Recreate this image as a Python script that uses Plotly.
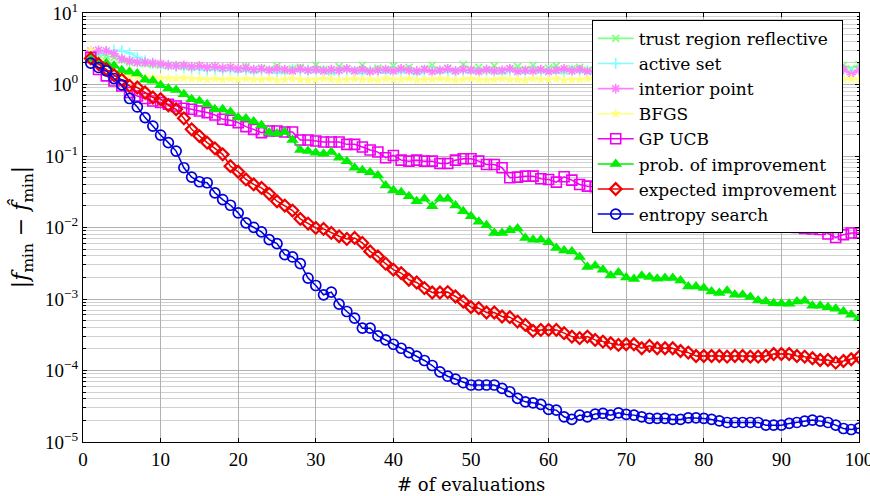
import plotly.graph_objects as go

evals = list(range(1, 101))

# log10(|f_min - f_hat_min|), x = 1..100
trust_region_log10 = [
    0.40, 0.42, 0.40, 0.38, 0.34, 0.31, 0.30, 0.29, 0.28, 0.27,
    0.26, 0.27, 0.25, 0.24, 0.26, 0.23, 0.25, 0.22, 0.24, 0.21,
    0.25, 0.20, 0.23, 0.21, 0.26, 0.19, 0.22, 0.24, 0.20, 0.27,
    0.21, 0.18, 0.25, 0.22, 0.20, 0.27, 0.19, 0.23, 0.21, 0.26,
    0.20, 0.24, 0.18, 0.22, 0.27, 0.20, 0.23, 0.19, 0.28, 0.21,
    0.24, 0.20, 0.26, 0.19, 0.22, 0.25, 0.21, 0.27, 0.20, 0.23,
    0.26, 0.19, 0.22, 0.24, 0.20, 0.27, 0.21, 0.23, 0.19, 0.25,
    0.22, 0.26, 0.20, 0.23, 0.19, 0.25, 0.22, 0.27, 0.20, 0.24,
    0.21, 0.25, 0.19, 0.23, 0.26, 0.20, 0.24, 0.22, 0.27, 0.21,
    0.24, 0.20, 0.26, 0.22, 0.25, 0.21, 0.24, 0.27, 0.22, 0.28]

active_set_log10 = [
    0.38, 0.42, 0.46, 0.48, 0.47, 0.44, 0.38, 0.33, 0.30, 0.28,
    0.27, 0.25, 0.24, 0.22, 0.21, 0.20, 0.21, 0.19, 0.20, 0.18,
    0.19, 0.17, 0.20, 0.18, 0.16, 0.19, 0.21, 0.18, 0.20, 0.17,
    0.19, 0.16, 0.18, 0.20, 0.17, 0.15, 0.19, 0.18, 0.16, 0.20,
    0.17, 0.19, 0.15, 0.18, 0.20, 0.16, 0.18, 0.17, 0.19, 0.16,
    0.18, 0.20, 0.17, 0.15, 0.19, 0.18, 0.16, 0.20, 0.17, 0.19,
    0.16, 0.18, 0.20, 0.17, 0.19, 0.15, 0.18, 0.17, 0.20, 0.16,
    0.19, 0.17, 0.15, 0.18, 0.20, 0.17, 0.16, 0.19, 0.18, 0.16,
    0.20, 0.17, 0.19, 0.15, 0.18, 0.17, 0.20, 0.16, 0.19, 0.18,
    0.17, 0.19, 0.16, 0.20, 0.18, 0.21, 0.17, 0.19, 0.18, 0.20]

interior_point_log10 = [
    0.47, 0.48, 0.47, 0.43, 0.36, 0.33, 0.31, 0.31, 0.30, 0.29,
    0.27, 0.26, 0.27, 0.25, 0.26, 0.24, 0.25, 0.23, 0.24, 0.22,
    0.23, 0.21, 0.22, 0.20, 0.22, 0.21, 0.19, 0.22, 0.20, 0.21,
    0.19, 0.21, 0.20, 0.22, 0.19, 0.21, 0.18, 0.20, 0.21, 0.19,
    0.22, 0.20, 0.19, 0.21, 0.18, 0.20, 0.22, 0.19, 0.21, 0.20,
    0.18, 0.21, 0.19, 0.20, 0.22, 0.18, 0.20, 0.19, 0.21, 0.18,
    0.20, 0.22, 0.19, 0.21, 0.18, 0.20, 0.19, 0.21, 0.20, 0.18,
    0.21, 0.19, 0.20, 0.18, 0.21, 0.19, 0.22, 0.20, 0.18, 0.20,
    0.19, 0.21, 0.18, 0.20, 0.19, 0.21, 0.20, 0.18, 0.21, 0.19,
    0.20, 0.18, 0.21, 0.19, 0.17, 0.20, 0.18, 0.21, 0.14, 0.20]

bfgs_log10 = [
    0.48, 0.28, 0.18, 0.15, 0.13, 0.12, 0.11, 0.10, 0.10, 0.09,
    0.09, 0.08, 0.09, 0.08, 0.08, 0.07, 0.08, 0.07, 0.08, 0.07,
    0.08, 0.07, 0.07, 0.08, 0.06, 0.07, 0.08, 0.07, 0.06, 0.07,
    0.08, 0.07, 0.06, 0.07, 0.08, 0.07, 0.07, 0.06, 0.08, 0.07,
    0.07, 0.08, 0.06, 0.07, 0.07, 0.08, 0.07, 0.06, 0.07, 0.08,
    0.07, 0.06, 0.07, 0.08, 0.07, 0.07, 0.06, 0.08, 0.07, 0.07,
    0.08, 0.06, 0.07, 0.07, 0.08, 0.07, 0.06, 0.07, 0.08, 0.07,
    0.07, 0.06, 0.08, 0.07, 0.07, 0.08, 0.06, 0.07, 0.07, 0.08,
    0.07, 0.06, 0.07, 0.08, 0.07, 0.07, 0.06, 0.08, 0.07, 0.07,
    0.08, 0.06, 0.07, 0.07, 0.08, 0.07, 0.06, 0.07, 0.08, 0.07]

gp_ucb_log10 = [
    0.38, 0.21, 0.12, 0.050, -0.020, -0.112, -0.160, -0.196, -0.230, -0.252,
    -0.276, -0.300, -0.332, -0.346, -0.370, -0.393, -0.426, -0.487, -0.501, -0.533,
    -0.589, -0.627, -0.673, -0.651, -0.651, -0.665, -0.665, -0.777, -0.777, -0.791,
    -0.805, -0.805, -0.805, -0.837, -0.837, -0.875, -0.917, -0.945, -1.024, -0.992,
    -1.058, -1.072, -1.058, -1.072, -1.072, -1.104, -1.104, -1.058, -1.038, -1.038,
    -1.072, -1.118, -1.118, -1.164, -1.304, -1.296, -1.282, -1.282, -1.318, -1.328,
    -1.366, -1.290, -1.338, -1.398, -1.422, -1.43, -1.45, -1.44, -1.48, -1.50,
    -1.52, -1.51, -1.55, -1.57, -1.60, -1.62, -1.61, -1.66, -1.68, -1.70,
    -1.73, -1.72, -1.77, -1.80, -1.82, -1.85, -1.87, -1.90, -1.93, -1.96,
    -1.987, -2.001, -2.015, -2.022, -2.029, -2.090, -2.140, -2.100, -2.076, -2.076]

prob_improvement_log10 = [
    0.355, 0.317, 0.299, 0.261, 0.201, 0.177, 0.154, 0.065, 0.051, -0.010,
    -0.056, -0.076, -0.136, -0.206, -0.230, -0.276, -0.346, -0.346, -0.384, -0.463,
    -0.477, -0.519, -0.571, -0.673, -0.687, -0.665, -0.777, -0.917, -0.931, -0.954,
    -0.968, -0.945, -1.024, -1.072, -1.164, -1.198, -1.226, -1.272, -1.412, -1.478,
    -1.506, -1.562, -1.633, -1.599, -1.703, -1.599, -1.599, -1.693, -1.773, -1.843,
    -1.921, -1.969, -2.076, -2.076, -2.039, -2.015, -2.146, -2.170, -2.170, -2.208,
    -2.286, -2.320, -2.334, -2.412, -2.553, -2.534, -2.590, -2.670, -2.628, -2.698,
    -2.721, -2.675, -2.693, -2.717, -2.707, -2.707, -2.741, -2.825, -2.825, -2.847,
    -2.895, -2.917, -2.885, -2.941, -2.941, -2.973, -3.021, -3.035, -3.058, -3.063,
    -3.067, -3.035, -3.025, -3.095, -3.095, -3.116, -3.135, -3.175, -3.222, -3.264]

expected_improvement_log10 = [
    0.365, 0.285, 0.215, 0.130, 0.065, -0.020, -0.042, -0.112, -0.182, -0.206,
    -0.290, -0.346, -0.473, -0.627, -0.721, -0.813, -0.893, -0.977, -1.142, -1.220,
    -1.328, -1.398, -1.445, -1.529, -1.633, -1.693, -1.763, -1.879, -1.945, -2.006,
    -2.020, -2.076, -2.123, -2.160, -2.146, -2.216, -2.334, -2.404, -2.506, -2.590,
    -2.637, -2.731, -2.769, -2.847, -2.909, -2.909, -2.903, -2.965, -3.035, -3.114,
    -3.128, -3.189, -3.189, -3.245, -3.254, -3.316, -3.362, -3.446, -3.432, -3.432,
    -3.432, -3.478, -3.526, -3.548, -3.526, -3.572, -3.596, -3.619, -3.642, -3.633,
    -3.633, -3.689, -3.656, -3.689, -3.689, -3.689, -3.727, -3.750, -3.797, -3.797,
    -3.797, -3.797, -3.806, -3.797, -3.797, -3.806, -3.806, -3.797, -3.769, -3.769,
    -3.769, -3.797, -3.806, -3.829, -3.853, -3.853, -3.891, -3.867, -3.843, -3.811]

entropy_search_log10 = [
    0.299, 0.238, 0.191, 0.084, -0.006, -0.196, -0.314, -0.463, -0.581, -0.707,
    -0.813, -0.931, -1.164, -1.296, -1.360, -1.374, -1.515, -1.609, -1.689, -1.795,
    -1.935, -1.997, -2.062, -2.170, -2.226, -2.380, -2.412, -2.506, -2.707, -2.811,
    -2.941, -2.903, -3.072, -3.175, -3.268, -3.408, -3.408, -3.516, -3.572, -3.633,
    -3.689, -3.75, -3.80, -3.86, -3.93, -4.02, -4.08, -4.12, -4.171, -4.203,
    -4.203, -4.203, -4.203, -4.250, -4.297, -4.390, -4.438, -4.452, -4.474, -4.544,
    -4.554, -4.648, -4.684, -4.624, -4.648, -4.610, -4.600, -4.624, -4.592, -4.614,
    -4.624, -4.648, -4.670, -4.670, -4.670, -4.684, -4.684, -4.662, -4.662, -4.670,
    -4.684, -4.704, -4.727, -4.727, -4.727, -4.727, -4.727, -4.764, -4.764, -4.764,
    -4.740, -4.727, -4.708, -4.694, -4.708, -4.727, -4.764, -4.811, -4.825, -4.806]

series_names = ["trust region reflective", "active set", "interior point", "BFGS",
                "GP UCB", "prob. of improvement", "expected improvement", "entropy search"]
series_data = [trust_region_log10, active_set_log10, interior_point_log10, bfgs_log10,
               gp_ucb_log10, prob_improvement_log10, expected_improvement_log10,
               entropy_search_log10]

styles = [
    dict(color="#80ff80", symbol="x-thin-open", size=7, lw=1.6, mlw=1.6),
    dict(color="#80ffff", symbol="cross-thin-open", size=8, lw=1.6, mlw=1.6),
    dict(color="#ff80ff", symbol="asterisk-open", size=8, lw=1.6, mlw=1.6),
    dict(color="#ffff80", symbol="star", size=8, lw=1.6, mlw=0),
    dict(color="#f000f0", symbol="square-open", size=10, lw=1.5, mlw=1.6),
    dict(color="#00ee00", symbol="triangle-up", size=11, lw=1.5, mlw=0),
    dict(color="#ee0000", symbol="diamond-open", size=9, lw=1.5, mlw=2.2),
    dict(color="#0000dd", symbol="circle-open", size=10, lw=1.5, mlw=1.7),
]

fig = go.Figure()
for name, vals, st in zip(series_names, series_data, styles):
    fig.add_trace(go.Scatter(
        x=evals, y=[10 ** v for v in vals], name=name, mode="lines+markers",
        line=dict(color=st["color"], width=st["lw"]),
        marker=dict(symbol=st["symbol"], size=st["size"], color=st["color"],
                    line=dict(color=st["color"], width=st["mlw"])),
    ))

tick_font = "Liberation Serif"
text_font = "DejaVu Serif"
exps = [-5, -4, -3, -2, -1, 0, 1]
ytickvals = [10 ** e for e in exps]
yticktext = ["10<sup>%s</sup>" % (str(e).replace("-", "\u2212")) for e in exps]

fig.update_layout(
    width=870, height=496,
    margin=dict(l=83, r=11, t=13, b=54),
    paper_bgcolor="white", plot_bgcolor="white",
    font=dict(family=text_font, size=17, color="black"),
    showlegend=True,
    legend=dict(x=0.979, y=0.984, xanchor="right", yanchor="top",
                bgcolor="white", bordercolor="black", borderwidth=1,
                font=dict(family=text_font, size=17), itemwidth=36,
                tracegroupgap=0),
    annotations=[
        dict(text="# of evaluations", xref="paper", yref="paper",
             x=0.5, y=-0.100, xanchor="center", yanchor="middle",
             showarrow=False, font=dict(family=text_font, size=18)),
        dict(text="|<i>f</i><sub>min</sub> \u2212 <i>f\u0302</i><sub>min</sub>|",
             xref="paper", yref="paper", x=-0.079, y=0.5, textangle=-90,
             xanchor="center", yanchor="middle", showarrow=False,
             font=dict(family=text_font, size=22)),
    ],
)
fig.update_xaxes(
    range=[0, 100], tickmode="linear", tick0=0, dtick=10,
    showgrid=True, gridcolor="#b0b0b0", gridwidth=1,
    showline=True, linecolor="black", linewidth=1, mirror="ticks",
    ticks="inside", ticklen=4, tickcolor="black",
    zeroline=False, automargin=False, ticklabeloverflow="allow",
    tickfont=dict(family=tick_font, size=19),
)
fig.update_yaxes(
    type="log", range=[-5, 1],
    tickvals=ytickvals, ticktext=yticktext,
    showgrid=True, gridcolor="#b0b0b0", gridwidth=1,
    showline=True, linecolor="black", linewidth=1, mirror="ticks",
    ticks="inside", ticklen=4, tickcolor="black",
    minor=dict(dtick="D1", showgrid=True, gridcolor="#d0d0d0", gridwidth=1,
               ticks="inside", ticklen=2.5, tickcolor="black"),
    zeroline=False, automargin=False, ticklabeloverflow="allow",
    tickfont=dict(family=tick_font, size=19),
)

fig.write_html("out.html")
